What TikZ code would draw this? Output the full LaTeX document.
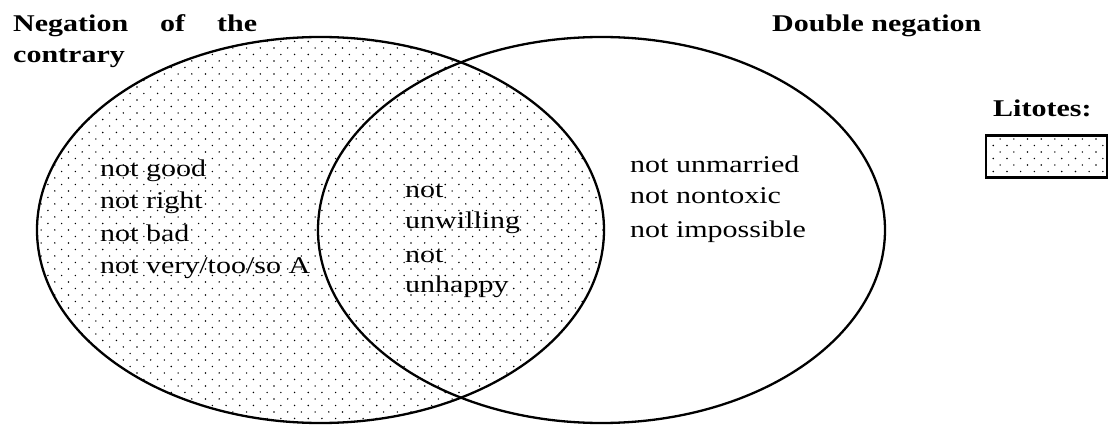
\documentclass[tikz,border=0pt]{standalone}
\usepackage{fontspec}
\setmainfont{Liberation Serif}[FakeStretch=1.25]
\usetikzlibrary{patterns,shapes.geometric}
\pgfdeclarepatternformonly{litdots}{\pgfqpoint{-1pt}{-1pt}}{\pgfqpoint{14.7pt}{14pt}}{\pgfqpoint{13.7pt}{13pt}}{%
  \pgfpathcircle{\pgfqpoint{0pt}{0pt}}{0.8pt}%
  \pgfpathcircle{\pgfqpoint{6.85pt}{6.5pt}}{0.8pt}%
  \pgfusepath{fill}}
\tikzset{
  lbl/.style={anchor=base west, inner sep=0pt, font=\fontsize{24}{29}\selectfont},
  hd/.style={lbl, font=\bfseries\fontsize{24}{29}\selectfont},
  set/.style={ellipse, draw, line width=2.3pt, minimum width=567pt, minimum height=386pt, inner sep=0pt}
}
\begin{document}
\begin{tikzpicture}[x=1pt,y=-1pt]
\useasboundingbox (0,0) rectangle (1109,425);
% the two sets
\node[set, pattern=litdots] (setA) at (320.5,230){};
\node[set] (setB) at (601.5,230){};
% headings
\node[hd] (hdA1) at (13,32){Negation};
\node[hd] (hdA2) at (160,32){of};
\node[hd] (hdA3) at (217,32){the};
\node[hd] (hdA4) at (13,63){contrary};
\node[hd] (hdB) at (772,32){Double negation};
% left part
\node[lbl] (a1) at (100,176){not good};
\node[lbl] (a2) at (100,208){not right};
\node[lbl] (a3) at (100,241){not bad};
\node[lbl] (a4) at (100,273){not very/too/so A};
% overlap
\node[lbl] (c1) at (405,197){not};
\node[lbl] (c2) at (405,228){unwilling};
\node[lbl] (c3) at (405,262){not};
\node[lbl] (c4) at (405,292){unhappy};
% right part
\node[lbl] (b1) at (630,172){not unmarried};
\node[lbl] (b2) at (630,204){not nontoxic};
\node[lbl] (b3) at (630,237){not impossible};
% legend
\node[hd] (key) at (993,117){Litotes:};
\node[draw, line width=2.3pt, pattern=litdots, minimum width=121pt, minimum height=42pt, inner sep=0pt] (keybox) at (1046.5,156.5){};
\end{tikzpicture}
\end{document}
